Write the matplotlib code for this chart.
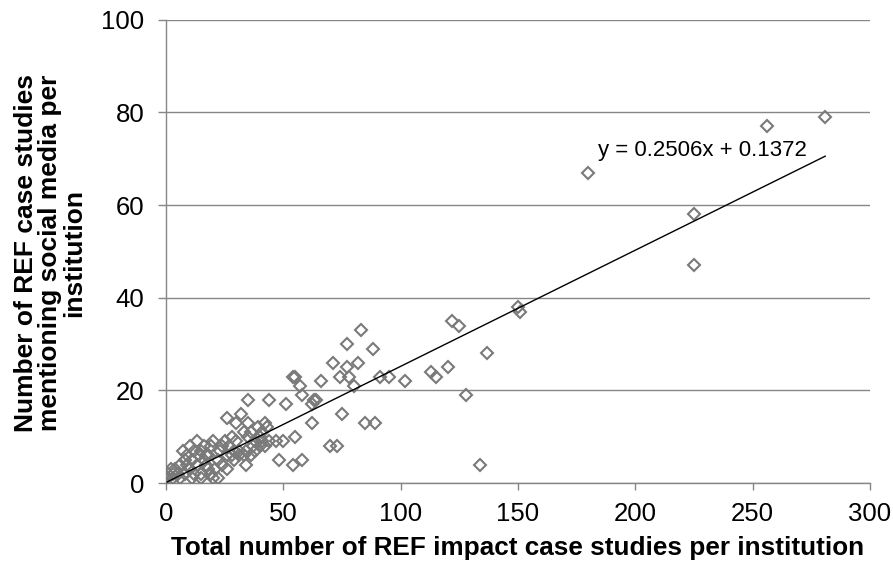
import matplotlib
matplotlib.use("Agg")
import matplotlib.pyplot as plt
import numpy as np

# ─── Data ─────────────────────────────────────────────────────────────────────
total_cases = [
    281, 256, 180, 225, 225, 150, 151, 122, 125, 137, 120, 113, 115, 128, 134,
    102, 95, 91, 83, 77, 88, 71, 82, 77, 74, 78, 80, 66, 54, 55, 57, 58, 51,
    64, 63, 62, 75, 62, 85, 89, 50, 55, 70, 73, 48, 54, 58, 47,
    35, 44, 26, 32, 30, 35, 42, 43, 25, 20, 28, 35, 40, 41, 13, 10, 7, 15,
    19, 23, 29, 31, 34, 37, 40, 34, 2, 3, 0.5, 6, 9, 12, 15, 17, 19, 20, 22,
    15, 17, 22, 26, 29, 31, 33, 36, 38, 42, 44, 4, 5, 8, 10, 11, 13, 14, 16,
    18, 21, 24, 27, 30, 33, 36, 39, 41, 38, 1, 3, 6, 9, 12, 16, 18, 24, 26,
    28, 11, 8,
]
social_cases = [
    79, 77, 67, 58, 47, 38, 37, 35, 34, 28, 25, 24, 23, 19, 4,
    22, 23, 23, 33, 30, 29, 26, 26, 25, 23, 23, 21, 22, 23, 23, 21, 19, 17,
    18, 18, 17, 15, 13, 13, 13, 9, 10, 8, 8, 5, 4, 5, 9,
    18, 18, 14, 15, 13, 13, 13, 12, 9, 9, 10, 10, 10, 9, 9, 8, 7, 7,
    8, 7, 7, 7, 7, 8, 8, 4, 3, 2, 1, 4, 4, 2, 2, 4, 2, 1, 1,
    1, 6, 5, 6, 5, 6, 6, 6, 7, 8, 9, 3, 2, 2, 3, 5, 4, 6,
    5, 3, 3, 4, 8, 9, 11, 11, 12, 11, 9, 2, 1, 1, 6, 7, 8, 6, 8, 3,
    6, 1, 5,
]

# trendline as printed on the chart
slope = 0.2506
intercept = 0.1372
eq_label = "y = 0.2506x + 0.1372"

x_ticks = [0, 50, 100, 150, 200, 250, 300]
y_ticks = [0, 20, 40, 60, 80, 100]

x_title = "Total number of REF impact case studies per institution"
y_title = "Number of REF case studies\nmentioning social media per\ninstitution"

# ─── Style ────────────────────────────────────────────────────────────────────
plt.rcParams["font.family"] = ["Liberation Sans", "DejaVu Sans"]
GREY = "#868686"
MARK = "#7a7a7a"


def main():
    fig = plt.figure(figsize=(8.93, 5.65), dpi=100)
    ax = fig.add_axes([0.186, 0.145, 0.788, 0.820])

    ax.plot(total_cases, social_cases, linestyle="none", marker="D",
            markersize=6.5, markerfacecolor="none", markeredgecolor=MARK,
            markeredgewidth=1.5, zorder=3)

    xs = np.array([min(total_cases), max(total_cases)])
    ax.plot(xs, slope * xs + intercept, color="black", linewidth=1.0,
            zorder=4)
    ax.text(184, 71.8, eq_label, fontsize=16, va="center", ha="left",
            zorder=5)

    ax.set_xlim(0, 300)
    ax.set_ylim(0, 100)
    ax.set_xticks(x_ticks)
    ax.set_yticks(y_ticks)
    ax.tick_params(labelsize=18.5, colors=GREY, labelcolor="black",
                   width=1, direction="out")
    ax.tick_params(axis="x", length=4.7, pad=9)
    ax.tick_params(axis="y", length=5.8, pad=10)

    ax.grid(axis="y", color=GREY, linewidth=1)
    ax.set_axisbelow(True)
    for side in ["top", "right"]:
        ax.spines[side].set_visible(False)
    for side in ["left", "bottom"]:
        ax.spines[side].set_color(GREY)
        ax.spines[side].set_linewidth(1)

    fig.text(0.5795, 0.0177, x_title, fontsize=18.8, fontweight="bold",
             ha="center", va="baseline")
    fig.text(0.056, 0.552, y_title, fontsize=19, fontweight="bold",
             ha="center", va="center", rotation=90, multialignment="center",
             linespacing=1.0)

    fig.savefig("out.png", dpi=100)
    plt.close(fig)


if __name__ == "__main__":
    main()
